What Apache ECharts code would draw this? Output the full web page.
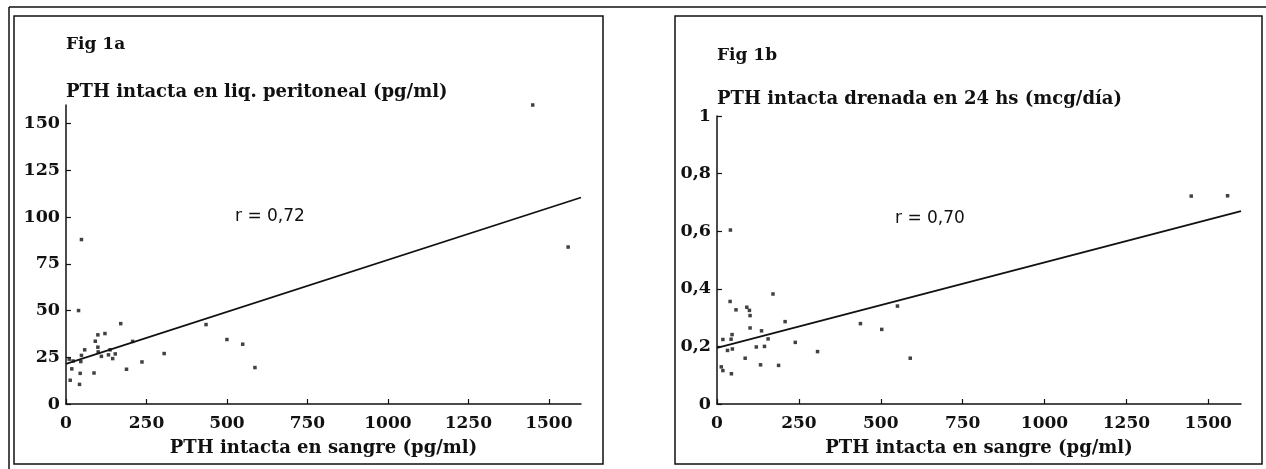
<!DOCTYPE html>
<html>
<head>
<meta charset="utf-8">
<script src="https://cdn.jsdelivr.net/npm/echarts@6/dist/echarts.min.js"></script>
<style>html,body{margin:0;padding:0;background:#fff;}#c{width:1266px;height:469px;}</style>
</head>
<body>
<div id="c"></div>
<script>
// ---- data ----
const xTicks = [0, 250, 500, 750, 1000, 1250, 1500];
const yTicksA = [0, 25, 50, 75, 100, 125, 150];
const yTicksB = [0, 0.2, 0.4, 0.6, 0.8, 1];

const fig1aX = [1450, 1560, 48, 39, 170, 435, 500, 549, 587, 305, 236, 188, 207, 91, 99, 121, 99, 100, 110, 132, 137, 145, 153, 58, 48, 87, 44, 42, 13, 18, 10, 22, 46];
const fig1aY = [160, 84, 88, 50, 43, 42.5, 34.5, 32, 19.5, 27, 22.5, 18.6, 33.5, 33.6, 37, 37.7, 30.4, 27.9, 25.5, 26.3, 29, 24.3, 26.8, 29, 26, 16.6, 16.4, 10.5, 12.7, 18.8, 24, 23, 22.7];

const fig1bX = [1448, 1559, 41, 551, 438, 503, 590, 307, 239, 208, 171, 188, 40, 58, 91, 99, 101, 101, 136, 46, 43, 18, 32, 47, 120, 145, 156, 86, 133, 13, 18, 44];
const fig1bY = [0.722, 0.723, 0.604, 0.34, 0.279, 0.259, 0.159, 0.182, 0.214, 0.286, 0.382, 0.134, 0.356, 0.327, 0.336, 0.325, 0.307, 0.264, 0.254, 0.241, 0.225, 0.224, 0.186, 0.191, 0.198, 0.2, 0.226, 0.159, 0.136, 0.129, 0.116, 0.105];

const fitX = [0, 1600];
const fitAY = [21.5, 110.5];
const fitBY = [0.195, 0.67];

const titleA = 'Fig 1a';
const titleB = 'Fig 1b';
const yNameA = 'PTH intacta en liq. peritoneal (pg/ml)';
const yNameB = 'PTH intacta drenada en 24 hs (mcg/día)';
const xName = 'PTH intacta en sangre (pg/ml)';
const rA = 'r = 0,72';
const rB = 'r = 0,70';

// ---- chart ----
const serif = '"DejaVu Serif", serif';
const sans = '"DejaVu Sans", sans-serif';
const ink = '#111';
const zip = (a, b) => a.map((v, i) => [v, b[i]]);

function xAxisCfg(gi) {
  return {
    gridIndex: gi, type: 'value', min: 0, max: 1600,
    name: xName, nameLocation: 'middle', nameGap: 35,
    nameTextStyle: { fontFamily: serif, fontWeight: 'bold', fontSize: 18, color: ink },
    axisLine: { lineStyle: { color: ink, width: 1.5 } },
    axisTick: { inside: true, length: 5, customValues: xTicks, lineStyle: { color: ink, width: 1.2 } },
    axisLabel: { customValues: xTicks, margin: 11, fontFamily: serif, fontWeight: 'bold', fontSize: 17, color: ink, formatter: v => String(v) },
    splitLine: { show: false }
  };
}
function yAxisCfg(gi, max, ticks, fmt) {
  return {
    gridIndex: gi, type: 'value', min: 0, max: max,
    axisLine: { show: true, lineStyle: { color: ink, width: 1.5 } },
    axisTick: { show: true, inside: true, length: 5, customValues: ticks, lineStyle: { color: ink, width: 1.2 } },
    axisLabel: { customValues: ticks, margin: 6, fontFamily: serif, fontWeight: 'bold', fontSize: 17.5, color: ink, formatter: fmt },
    splitLine: { show: false }
  };
}
const fmtB = v => String(v).replace('.', ',');

const option = {
  backgroundColor: '#fff',
  animation: false,
  grid: [
    { left: 66, top: 105, width: 515, bottom: 65 },
    { left: 717, top: 116, width: 524, bottom: 65 }
  ],
  xAxis: [xAxisCfg(0), xAxisCfg(1)],
  yAxis: [yAxisCfg(0, 160, yTicksA, v => String(v)), yAxisCfg(1, 1, yTicksB, fmtB)],
  series: [
    { type: 'scatter', xAxisIndex: 0, yAxisIndex: 0, data: zip(fig1aX, fig1aY), symbol: 'rect', symbolSize: 3.5, itemStyle: { color: ink } },
    { type: 'line', xAxisIndex: 0, yAxisIndex: 0, data: zip(fitX, fitAY), symbol: 'none', lineStyle: { color: ink, width: 1.8 } },
    { type: 'scatter', xAxisIndex: 1, yAxisIndex: 1, data: zip(fig1bX, fig1bY), symbol: 'rect', symbolSize: 3.5, itemStyle: { color: ink } },
    { type: 'line', xAxisIndex: 1, yAxisIndex: 1, data: zip(fitX, fitBY), symbol: 'none', lineStyle: { color: ink, width: 1.8 } }
  ],
  graphic: [
    { type: 'line', shape: { x1: 9, y1: 7, x2: 1266, y2: 7 }, style: { stroke: ink, lineWidth: 1.5 } },
    { type: 'line', shape: { x1: 9, y1: 7, x2: 9, y2: 469 }, style: { stroke: ink, lineWidth: 1.5 } },
    { type: 'rect', shape: { x: 14, y: 16, width: 589, height: 448 }, style: { fill: null, stroke: ink, lineWidth: 1.5 } },
    { type: 'rect', shape: { x: 675, y: 16, width: 587, height: 448 }, style: { fill: null, stroke: ink, lineWidth: 1.5 } },
    { type: 'text', left: 66, top: 36, style: { text: titleA, font: 'bold 17px ' + serif, fill: ink } },
    { type: 'text', left: 717, top: 47, style: { text: titleB, font: 'bold 17px ' + serif, fill: ink } },
    { type: 'text', left: 66, top: 83, style: { text: yNameA, font: 'bold 18px ' + serif, fill: ink } },
    { type: 'text', left: 717, top: 90, style: { text: yNameB, font: 'bold 18px ' + serif, fill: ink } },
    { type: 'text', left: 235, top: 208, style: { text: rA, font: '17px ' + sans, fill: ink } },
    { type: 'text', left: 895, top: 210, style: { text: rB, font: '17px ' + sans, fill: ink } }
  ]
};
echarts.init(document.getElementById('c')).setOption(option);
</script>
</body>
</html>
